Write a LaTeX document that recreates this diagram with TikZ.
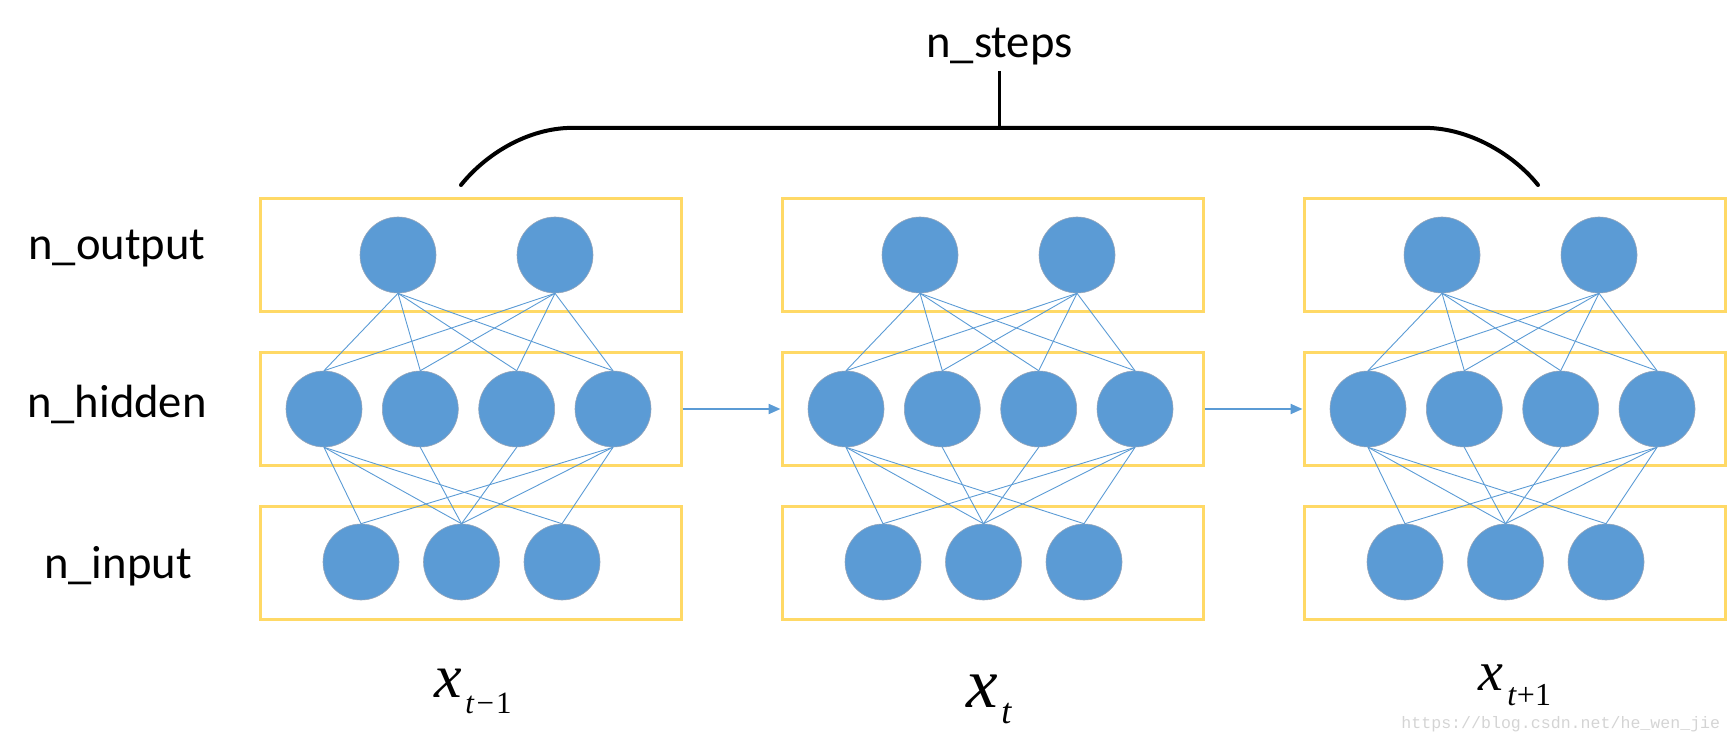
\documentclass[tikz,border=0pt]{standalone}
\usepackage{fontspec}
\setmainfont{Carlito}
\newfontfamily\tnr{Liberation Serif}
\newfontfamily\wmono{Liberation Mono}
\usetikzlibrary{arrows.meta}
\definecolor{nodeblue}{RGB}{91,155,213}
\definecolor{boxgold}{RGB}{255,217,102}
\definecolor{rimgrey}{RGB}{150,165,185}
\begin{document}
\begin{tikzpicture}[x=0.5pt,y=-0.5pt,
  layerbox/.style={draw=boxgold, line width=1.5pt, minimum width=210.5pt, minimum height=56.5pt, inner sep=0pt},
  neuron/.style={circle, fill=nodeblue, draw=rimgrey, line width=0.3pt, minimum size=38pt, inner sep=0pt},
  link/.style={draw=nodeblue, line width=0.45pt},
  flow/.style={draw=nodeblue, line width=1.1pt, -{Triangle[length=6pt,width=5pt]}},
  lbl/.style={font=\fontsize{23.3}{28}\selectfont, inner sep=0pt, anchor=base},
  brace/.style={line width=2pt, line cap=round},
  mathx/.style={anchor=base west, inner sep=0pt}
]
\useasboundingbox (0,0) rectangle (1732,742);

\foreach \k in {0,1,2} {
  \pgfmathsetmacro\ox{522*\k}
  % layer boxes
  \node[layerbox] (bo\k) at (470.5+\ox,255.5) {};
  \node[layerbox] (bh\k) at (470.5+\ox,409) {};
  \node[layerbox] (bi\k) at (470.5+\ox,562.5) {};
  % neurons
  \node[neuron] (o\k1) at (398+\ox,255) {};
  \node[neuron] (o\k2) at (555+\ox,255) {};
  \node[neuron] (h\k1) at (324+\ox,409) {};
  \node[neuron] (h\k2) at (420.3+\ox,409) {};
  \node[neuron] (h\k3) at (516.7+\ox,409) {};
  \node[neuron] (h\k4) at (613+\ox,409) {};
  \node[neuron] (i\k1) at (361+\ox,562) {};
  \node[neuron] (i\k2) at (461.5+\ox,562) {};
  \node[neuron] (i\k3) at (562+\ox,562) {};
  % output-hidden links
  \foreach \a in {1,2} {
    \foreach \b in {1,2,3,4} {
      \draw[link] (o\k\a.south) -- (h\k\b.north);
    }
  }
  % hidden-input links
  \foreach \b in {1,2,3} {
    \draw[link] (h\k1.south) -- (i\k\b.north);
    \draw[link] (h\k4.south) -- (i\k\b.north);
  }
  \draw[link] (h\k2.south) -- (i\k2.north);
  \draw[link] (h\k3.south) -- (i\k2.north);
}

% recurrent arrows
\draw[flow] (bh0.east) -- (bh1.west);
\draw[flow] (bh1.east) -- (bh2.west);

% row labels
\node[lbl] (lo) at (117,260) {n\_output};
\node[lbl] (lh) at (117,417) {n\_hidden};
\node[lbl] (li) at (118,578) {n\_input};
\node[lbl] (steps) at (999.5,58) {n\_steps};

% brace
\coordinate (bl) at (461,185);
\coordinate (br) at (1538,185);
\coordinate (bm) at (999,128);
\coordinate (st) at (999,71);
\draw[brace] (bl) .. controls (485,155) and (525,130) .. (567,128) -- (1430,128)
  .. controls (1472,130) and (1514,155) .. (br);
\draw[line width=1.5pt] (st) -- (bm);

% time labels
\node[mathx, font=\tnr\itshape\fontsize{31}{31}\selectfont] (x0) at (434,697) {x};
\node[mathx, font=\tnr\fontsize{15.5}{15.5}\selectfont] (s0) at (465,713) {\textit{t}\kern1pt−\kern1pt1};
\node[mathx, font=\tnr\itshape\fontsize{35.5}{35.5}\selectfont] (x1) at (966,707) {x};
\node[mathx, font=\tnr\itshape\fontsize{18}{18}\selectfont] (s1) at (1001,723) {t};
\node[mathx, font=\tnr\itshape\fontsize{28}{28}\selectfont] (x2) at (1478,690) {x};
\node[mathx, font=\tnr\fontsize{16}{16}\selectfont] (s2) at (1507,705) {\textit{t}+1};

% watermark
\node[mathx, font=\wmono\fontsize{8.3}{8.3}\selectfont, text=black!17] (wm) at (1401,728) {https://blog.csdn.net/he\_wen\_jie};
\end{tikzpicture}
\end{document}
